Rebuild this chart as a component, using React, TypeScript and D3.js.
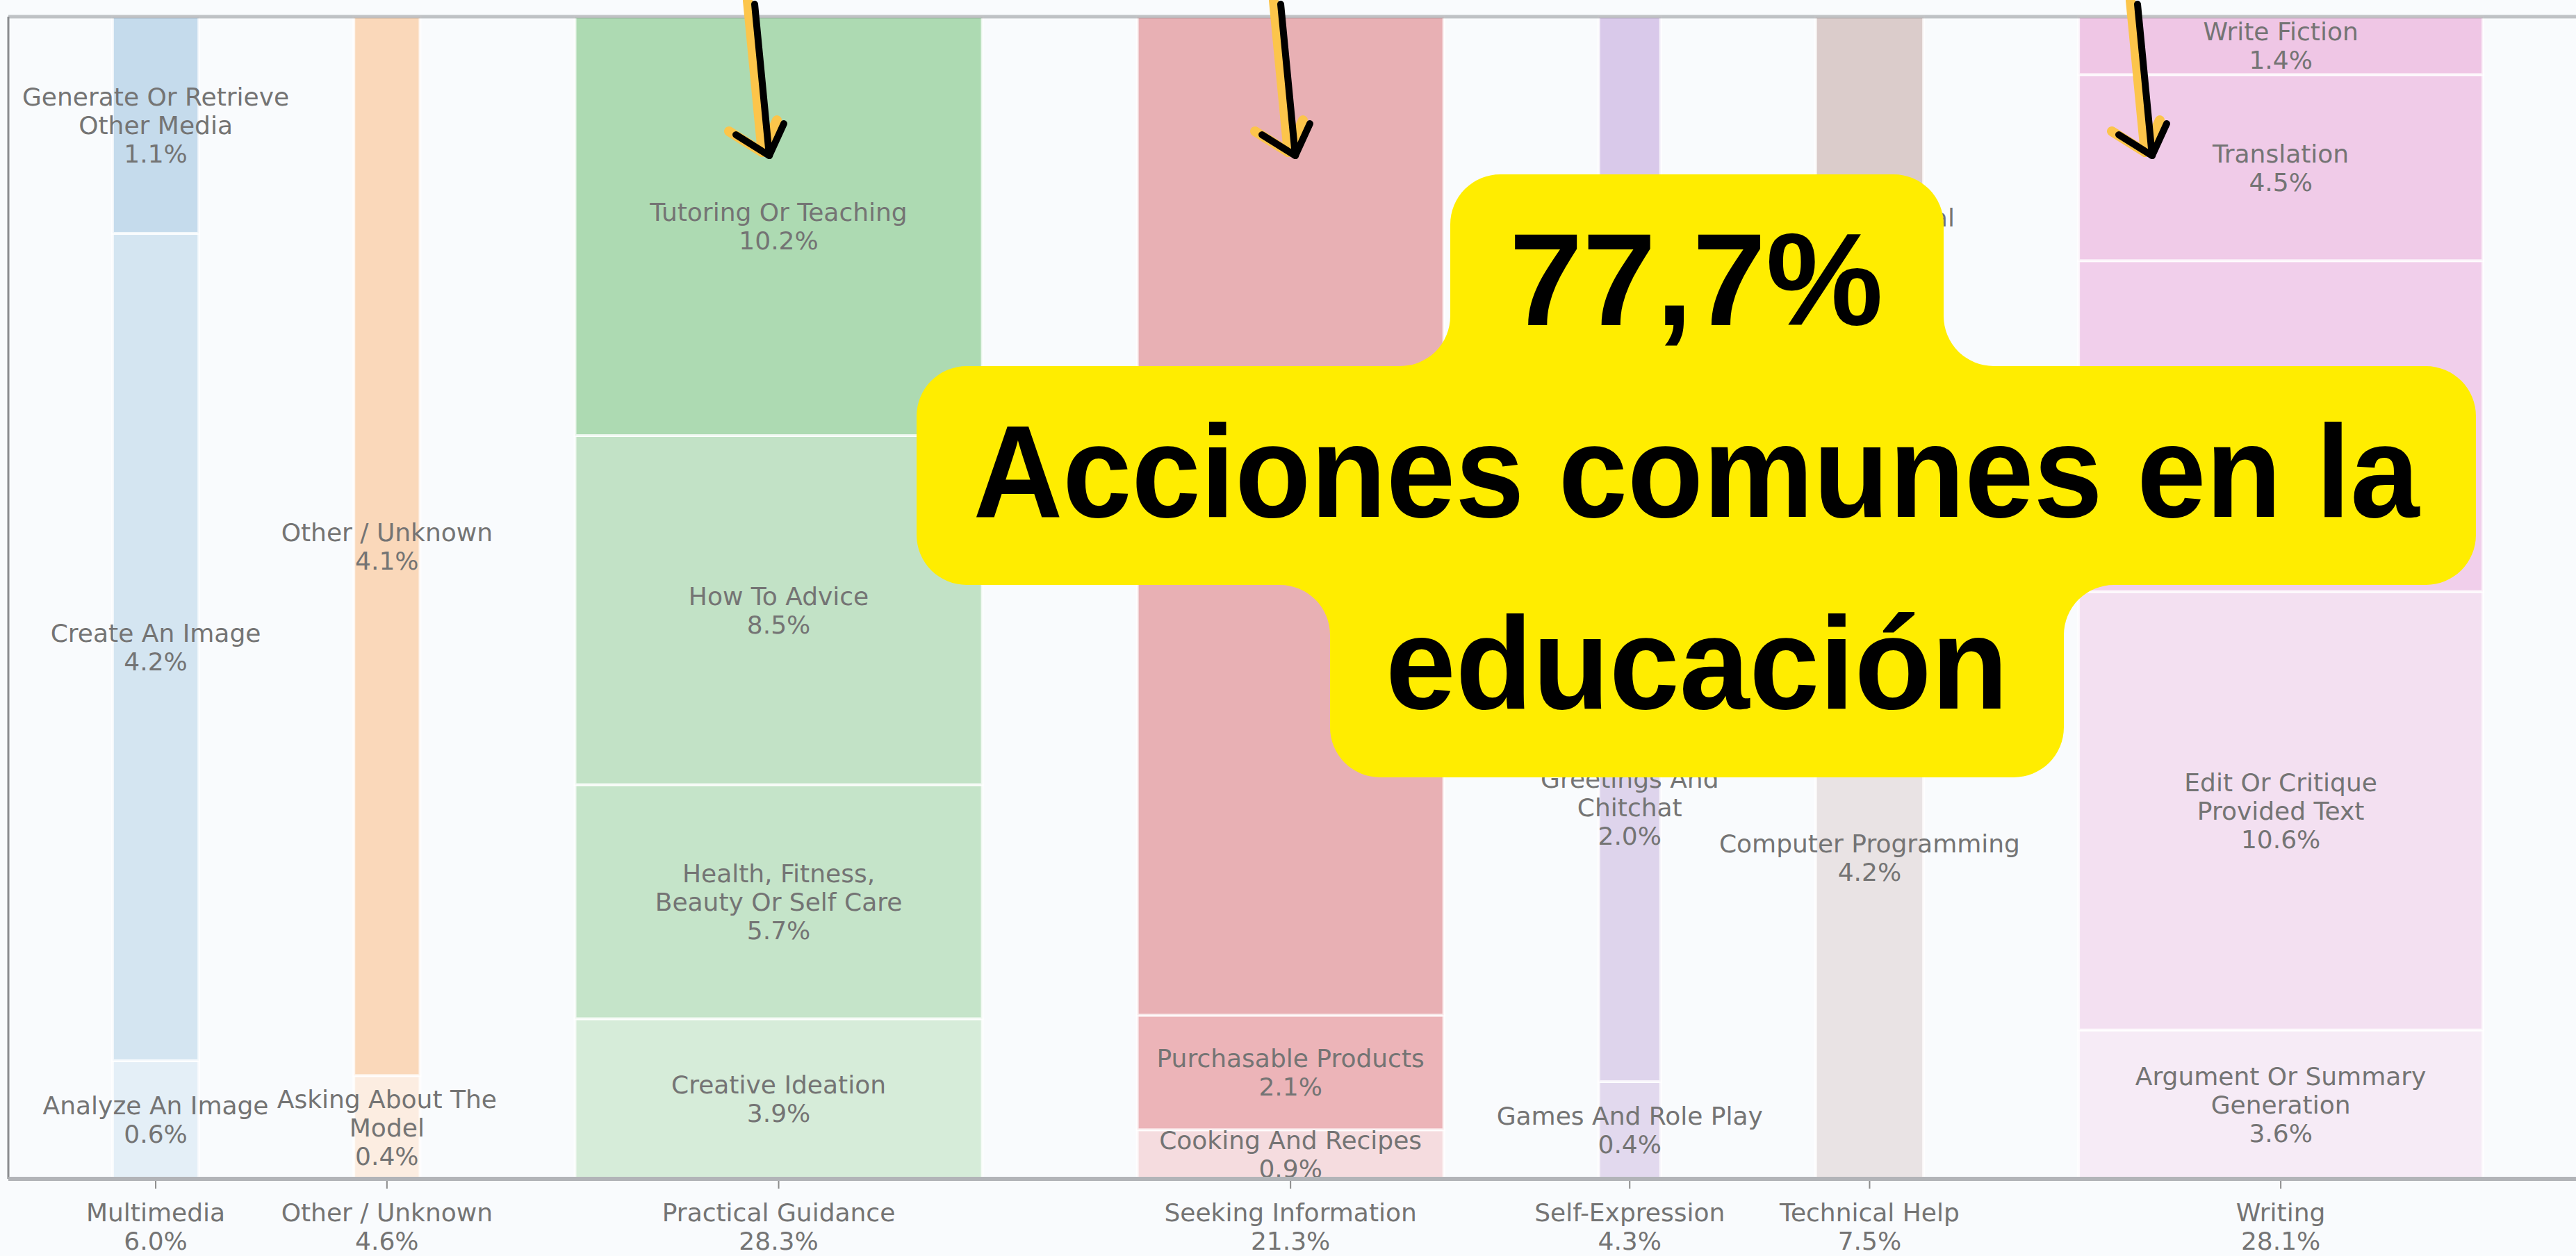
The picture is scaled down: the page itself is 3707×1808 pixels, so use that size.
import React, { useEffect, useRef } from "react";
import * as d3 from "d3";

// column categories and their overall share (%)
const categories = [
  "Multimedia",
  "Other / Unknown",
  "Practical Guidance",
  "Seeking Information",
  "Self-Expression",
  "Technical Help",
  "Writing",
];
const categoryShares = [6.0, 4.6, 28.3, 21.3, 4.3, 7.5, 28.1];

// topics inside each column, bottom to top
const multimediaTopics = ["Analyze An Image", "Create An Image", "Generate Or Retrieve Other Media"];
const multimediaValues = [0.6, 4.2, 1.1];
const otherTopics = ["Asking About The Model", "Other / Unknown"];
const otherValues = [0.4, 4.1];
const practicalTopics = ["Creative Ideation", "Health, Fitness, Beauty Or Self Care", "How To Advice", "Tutoring Or Teaching"];
const practicalValues = [3.9, 5.7, 8.5, 10.2];
const seekingTopics = ["Cooking And Recipes", "Purchasable Products", "Specific Info"];
const seekingValues = [0.9, 2.1, 18.3];
const selfTopics = ["Games And Role Play", "Greetings And Chitchat", "Relationships And Personal Reflection"];
const selfValues = [0.36, 2.03, 1.91];
const techTopics = ["Computer Programming", "Data Analysis", "Mathematical Calculation"];
const techValues = [4.2, 0.4, 3.0];
const writingTopics = [
  "Argument Or Summary Generation",
  "Edit Or Critique Provided Text",
  "Personal Writing Or Communication",
  "Translation",
  "Write Fiction",
];
const writingValues = [3.6, 10.6, 8.0, 4.5, 1.4];

const overlayLines = ["77,7%", "Acciones comunes en la", "educación"];

// colours, bottom to top per column
const palettes = [
  ["#e4eff7", "#d4e5f1", "#c5dbec"],
  ["#fcede1", "#fad8ba"],
  ["#d6ecd9", "#c5e4c9", "#c2e2c6", "#addab2"],
  ["#f5dcdf", "#ecb4b8", "#e8b0b4"],
  ["#e2d9ee", "#ded4ec", "#d9c9ea"],
  ["#e9e3e4", "#e0d5d5", "#dbcccb"],
  ["#f6ebf6", "#f3e0f1", "#f1cfeb", "#f0cbe8", "#efc6e5"],
];

const W = 3707;
const H = 1808;
const plotLeft = 12;
const plotRight = 3723;
const plotTop = 24;
const plotBottom = 1697;
const padUnits = 7.24;
const gapUnits = 10.77;
const fs = 36;
const lineH = 41;

function wrap(s: string, width = 20) {
  const words = s.split(" ");
  const lines: string[] = [];
  let cur = "";
  words.forEach((w) => {
    if (!cur) cur = w;
    else if ((cur + " " + w).length <= width) cur += " " + w;
    else {
      lines.push(cur);
      cur = w;
    }
  });
  if (cur) lines.push(cur);
  return lines;
}

const App: React.FC = () => {
  const svgRef = useRef<SVGSVGElement | null>(null);

  useEffect(() => {
    if (!svgRef.current) return;
    const svg = d3.select(svgRef.current);
    svg.selectAll("*").remove();

    const topics = [multimediaTopics, otherTopics, practicalTopics, seekingTopics, selfTopics, techTopics, writingTopics];
    const values = [multimediaValues, otherValues, practicalValues, seekingValues, selfValues, techValues, writingValues];

    const total = padUnits * 2 + d3.sum(categoryShares) + gapUnits * (categories.length - 1);
    const x = d3.scaleLinear().domain([0, total]).range([plotLeft, plotRight]);
    const starts: number[] = [];
    let acc = padUnits;
    categoryShares.forEach((s) => {
      starts.push(acc);
      acc += s + gapUnits;
    });

    svg.append("rect").attr("width", W).attr("height", H).attr("fill", "#f9fbfd");

    const cols = svg.append("g");
    const labels = svg.append("g").attr("font-family", "DejaVu Sans, sans-serif").attr("font-size", fs).attr("fill", "#747474");

    categories.forEach((cat, ci) => {
      const x0 = x(starts[ci]);
      const x1 = x(starts[ci] + categoryShares[ci]);
      const cx = (x0 + x1) / 2;
      const vals = values[ci];
      const y = d3.scaleLinear().domain([0, d3.sum(vals)]).range([plotBottom, plotTop]);
      let base = 0;
      vals.forEach((v, si) => {
        const yTop = y(base + v);
        const yBot = y(base);
        cols
          .append("rect")
          .attr("x", x0)
          .attr("y", yTop)
          .attr("width", x1 - x0)
          .attr("height", yBot - yTop)
          .attr("fill", palettes[ci][si])
          .attr("stroke", "#ffffff")
          .attr("stroke-opacity", 0.75)
          .attr("stroke-width", 4);
        const lines = wrap(topics[ci][si]).concat(`${v.toFixed(1)}%`);
        const cy = (yTop + yBot) / 2;
        const t = labels.append("text").attr("text-anchor", "middle");
        lines.forEach((ln, li) => {
          t.append("tspan")
            .attr("x", cx)
            .attr("y", cy + (li - (lines.length - 1) / 2) * lineH + fs * 0.36)
            .text(ln);
        });
        base += v;
      });

      // x axis tick + label
      svg.append("line").attr("x1", cx).attr("x2", cx).attr("y1", plotBottom + 3).attr("y2", plotBottom + 14)
        .attr("stroke", "#8c8c8c").attr("stroke-width", 2);
      const t = labels.append("text").attr("text-anchor", "middle");
      [cat, `${categoryShares[ci].toFixed(1)}%`].forEach((ln, li) => {
        t.append("tspan").attr("x", cx).attr("y", 1758 + li * lineH).text(ln);
      });
    });

    // frame
    svg.append("line").attr("x1", plotLeft).attr("x2", W).attr("y1", plotTop).attr("y2", plotTop)
      .attr("stroke", "#6f7378").attr("stroke-opacity", 0.42).attr("stroke-width", 5);
    svg.append("line").attr("x1", plotLeft).attr("x2", plotLeft).attr("y1", plotTop).attr("y2", plotBottom)
      .attr("stroke", "#8a8c8f").attr("stroke-width", 3);
    svg.append("line").attr("x1", plotLeft).attr("x2", W).attr("y1", plotBottom).attr("y2", plotBottom)
      .attr("stroke", "#b2b4b8").attr("stroke-width", 6);

    // hand-drawn arrows
    const arrows = [1086, 1843, 3076];
    const ann = svg.append("g").attr("fill", "none").attr("stroke-linecap", "round").attr("stroke-linejoin", "round");
    arrows.forEach((ax) => {
      const shaft = `M${ax},6 L${ax + 21},224`;
      const head = `M${ax - 27},194 L${ax + 21},224 L${ax + 42},178`;
      [["#fcc54b", 14, -10, -5], ["#000000", 10, 0, 0]].forEach(([c, w, dx, dy]) => {
        const g = ann.append("g").attr("transform", `translate(${dx},${dy})`).attr("stroke", c as string).attr("stroke-width", w as number);
        g.append("path").attr("d", shaft);
        g.append("path").attr("d", head);
      });
    });

    // yellow callout box
    const L1 = 2087, R1 = 2797, T1 = 251;
    const L2 = 1319, R2 = 3563, T2 = 527, B2 = 842;
    const L3 = 1914, R3 = 2970, B3 = 1119;
    const pts: [number, number][] = [
      [L1, T1], [R1, T1], [R1, T2], [R2, T2], [R2, B2], [R3, B2],
      [R3, B3], [L3, B3], [L3, B2], [L2, B2], [L2, T2], [L1, T2],
    ];
    const r = 72;
    const p = d3.path();
    p.moveTo((L1 + R1) / 2, T1);
    for (let i = 1; i <= pts.length; i++) {
      const a = pts[i % pts.length];
      const b = pts[(i + 1) % pts.length];
      p.arcTo(a[0], a[1], b[0], b[1], r);
    }
    p.closePath();
    svg.append("path").attr("d", p.toString()).attr("fill", "#ffed00");

    const ot = svg.append("g").attr("font-family", "Liberation Sans, Arial, sans-serif").attr("font-weight", 700)
      .attr("font-size", 178).attr("fill", "#000").attr("text-anchor", "middle");
    const centers = [(L1 + R1) / 2 - 1, (L2 + R2) / 2, (L3 + R3) / 2];
    const baselines = [468, 744, 1020];
    const widths = [538, 2081, 896];
    overlayLines.forEach((ln, i) => {
      ot.append("text")
        .attr("transform", `translate(${centers[i]},${baselines[i]}) scale(1,1.066)`)
        .attr("textLength", widths[i])
        .attr("lengthAdjust", "spacingAndGlyphs")
        .text(ln);
    });
  }, []);

  return (
    <div style={{ position: "absolute", left: 0, top: 0 }}>
      <svg ref={svgRef} width={W} height={H} style={{ display: "block" }}></svg>
    </div>
  );
};

export default App;
